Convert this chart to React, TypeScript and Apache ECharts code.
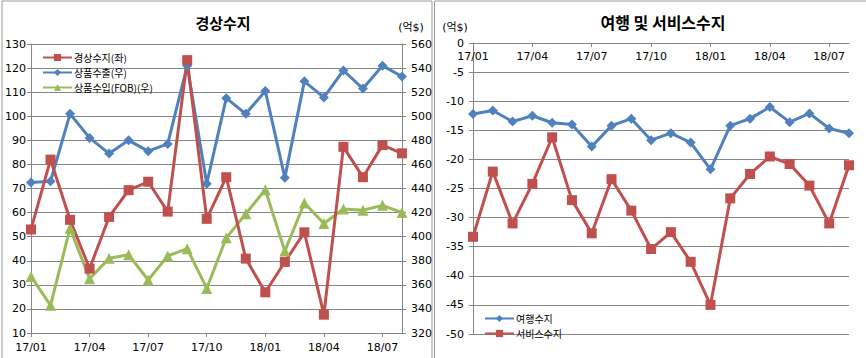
import React, { useEffect, useRef } from "react";
import * as echarts from "echarts";

const months = ["17/01","17/02","17/03","17/04","17/05","17/06","17/07","17/08","17/09","17/10","17/11","17/12","18/01","18/02","18/03","18/04","18/05","18/06","18/07","18/08"];
const currentAccount = [53, 82, 57, 36.7, 58.2, 69.3, 72.8, 60.4, 123.3, 57.4, 74.7, 40.9, 26.9, 39.5, 51.8, 17.6, 87.3, 74.7, 88, 84.6];
const goodsExports = [445, 446, 502, 482, 469, 480, 471, 477, 542, 444, 515, 502, 521, 449, 529, 515.6, 538, 523, 542, 533];
const goodsImports = [367, 343, 407, 365, 382, 385, 364, 384, 390, 357, 399, 419, 439, 388, 428, 411, 423, 422, 426, 420];
const travelBalance = [-12.2, -11.6, -13.5, -12.5, -13.7, -14.0, -17.8, -14.2, -13.0, -16.7, -15.5, -17.1, -21.7, -14.2, -13.0, -11.0, -13.6, -12.1, -14.7, -15.5];
const serviceBalance = [-33.3, -22.1, -31.0, -24.2, -16.2, -27.0, -32.7, -23.4, -28.8, -35.4, -32.5, -37.6, -45.0, -26.7, -22.5, -19.5, -20.8, -24.5, -31.0, -21.0];

const names = {
  ca: "경상수지(좌)",
  ex: "상품수출(우)",
  im: "상품수입(FOB)(우)",
  tr: "여행수지",
  sv: "서비스수지",
};

const RED = "#C0504D";
const BLUE = "#4F81BD";
const GREEN = "#9BBB59";
const GRID = "#868686";
const FONT = "'DejaVu Sans', 'Noto Sans CJK KR', sans-serif";
const KFONT = "'Noto Sans CJK KR', sans-serif";

export default function App() {
  const ref = useRef<HTMLDivElement>(null);
  useEffect(() => {
    if (!ref.current) return;
    const chart = echarts.init(ref.current, null, { renderer: "svg" });
    const axisLabel = { color: "#000", fontSize: 11, fontFamily: FONT };
    const axisLine = { show: true, lineStyle: { color: GRID, width: 1 } };
    const line = (name: string, data: number[], color: string, symbol: string, size: number, xi: number, yi: number) => ({
      type: "line",
      name,
      data,
      xAxisIndex: xi,
      yAxisIndex: yi,
      symbol,
      symbolSize: size,
      lineStyle: { color, width: 3 },
      itemStyle: { color },
      emphasis: { disabled: true },
    });
    chart.setOption({
      animation: false,
      backgroundColor: "#fff",
      graphic: [
        { type: "rect", shape: { x: 2, y: 1, width: 430, height: 370 }, style: { fill: "none", stroke: "#9a9a9a", lineWidth: 1 } },
        { type: "rect", shape: { x: 434.5, y: 1, width: 440, height: 370 }, style: { fill: "none", stroke: "#9a9a9a", lineWidth: 1 } },
        { type: "text", x: 223, y: 22, style: { text: "경상수지", font: "bold 15px " + KFONT, fill: "#000", align: "center", verticalAlign: "middle" } },
        { type: "text", x: 663, y: 22, style: { text: "여행 및 서비스수지", font: "bold 16px " + KFONT, fill: "#000", align: "center", verticalAlign: "middle" } },
        { type: "text", x: 411, y: 27, style: { text: "(억$)", font: "11px " + FONT, fill: "#000", align: "center", verticalAlign: "middle" } },
        { type: "text", x: 455, y: 27, style: { text: "(억$)", font: "11px " + FONT, fill: "#000", align: "center", verticalAlign: "middle" } },
      ],
      legend: [
        {
          orient: "vertical",
          left: 37,
          top: 45,
          itemWidth: 29,
          itemHeight: 9,
          itemGap: 0,
          textStyle: { fontSize: 10, fontFamily: KFONT, color: "#000", lineHeight: 15, padding: [0, 0, 0, -3] },
          data: [names.ca, names.ex, names.im],
        },
        {
          orient: "vertical",
          left: 479,
          top: 306,
          itemWidth: 29,
          itemHeight: 9,
          itemGap: 0,
          textStyle: { fontSize: 10, fontFamily: KFONT, color: "#000", lineHeight: 15, padding: [0, 0, 0, -3] },
          data: [names.tr, names.sv],
        },
      ],
      grid: [
        { left: 31, right: 464, top: 44, bottom: 25 },
        { left: 473, right: 17, top: 43, bottom: 24 },
      ],
      xAxis: [
        {
          type: "category",
          gridIndex: 0,
          data: months,
          boundaryGap: false,
          axisLine,
          axisTick: { show: true, interval: 2, length: 4, lineStyle: { color: GRID } },
          axisLabel: { ...axisLabel, interval: 2, margin: 9 },
          splitLine: { show: false },
        },
        {
          type: "category",
          gridIndex: 1,
          data: months,
          position: "top",
          boundaryGap: false,
          axisLine,
          axisTick: { show: true, inside: true, interval: 2, length: 4, lineStyle: { color: GRID } },
          axisLabel: { ...axisLabel, interval: 2, inside: true, margin: 8 },
          splitLine: { show: false },
        },
      ],
      yAxis: [
        {
          type: "value",
          gridIndex: 0,
          min: 10,
          max: 130,
          interval: 10,
          axisLine,
          axisTick: { show: true, length: 4, lineStyle: { color: GRID } },
          axisLabel: { ...axisLabel, margin: 5 },
          splitLine: { show: true, lineStyle: { color: GRID, width: 1 } },
        },
        {
          type: "value",
          gridIndex: 0,
          position: "right",
          min: 320,
          max: 560,
          interval: 20,
          axisLine,
          axisTick: { show: true, length: 4, lineStyle: { color: GRID } },
          axisLabel: { ...axisLabel, margin: 9 },
          splitLine: { show: false },
        },
        {
          type: "value",
          gridIndex: 1,
          min: -50,
          max: 0,
          interval: 5,
          axisLine,
          axisTick: { show: true, length: 4, lineStyle: { color: GRID } },
          axisLabel: { ...axisLabel, margin: 9 },
          splitLine: { show: true, lineStyle: { color: GRID, width: 1 } },
        },
      ],
      series: [
        line(names.ex, goodsExports, BLUE, "diamond", 10, 0, 1),
        line(names.im, goodsImports, GREEN, "triangle", 11, 0, 1),
        line(names.ca, currentAccount, RED, "rect", 10, 0, 0),
        line(names.tr, travelBalance, BLUE, "diamond", 10, 1, 2),
        line(names.sv, serviceBalance, RED, "rect", 10, 1, 2),
      ],
    });
    return () => chart.dispose();
  }, []);
  return <div ref={ref} style={{ position: "absolute", left: 0, top: 0, width: 866, height: 358 }} />;
}
